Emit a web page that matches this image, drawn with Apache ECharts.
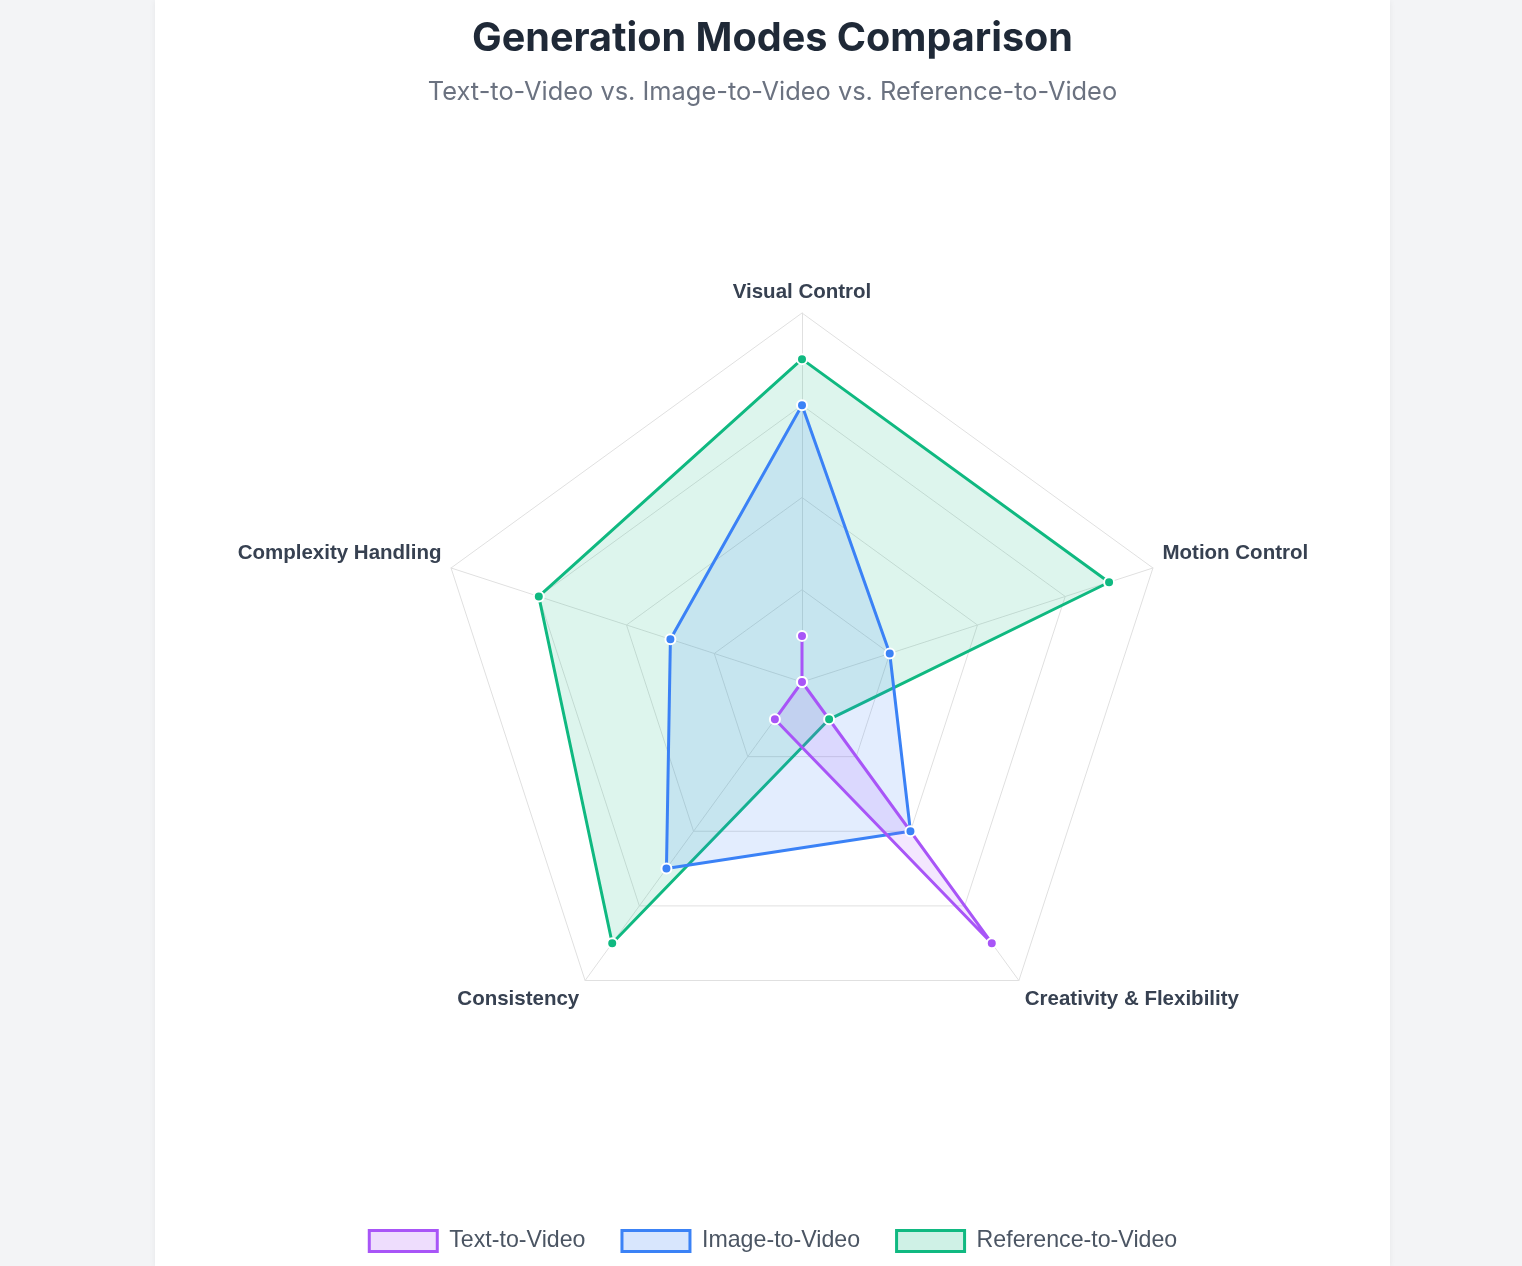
<!DOCTYPE html>
<html>
<head>
<meta charset="utf-8">
<script src="https://cdn.jsdelivr.net/npm/echarts@6/dist/echarts.min.js"></script>
<style>
  html, body { margin: 0; padding: 0; background: #f3f4f6; width: 1522px; height: 1266px; overflow: hidden; }
  #card { position: absolute; left: 155px; top: 0; width: 1235px; height: 1266px; background: #ffffff; box-shadow: 0 1px 6px rgba(0,0,0,0.06); }
  #chart { width: 1235px; height: 1266px; }
</style>
</head>
<body>
<div id="card"><div id="chart"></div></div>
<script>
// Categories in clockwise order starting from the top
const categories = ['Visual Control', 'Motion Control', 'Creativity & Flexibility', 'Consistency', 'Complexity Handling'];
const seriesNames = ['Text-to-Video', 'Image-to-Video', 'Reference-to-Video'];
const textToVideo = [3, 2, 9, 3, 2];
const imageToVideo = [8, 4, 6, 7, 5];
const referenceToVideo = [9, 9, 3, 9, 8];
const scaleMin = 2;
const scaleMax = 10;
const colors = ['#a855f7', '#3b82f6', '#10b981'];

// ECharts lays indicators counter-clockwise; reorder to keep clockwise reading
const order = [0, 4, 3, 2, 1];
const pick = arr => order.map(i => arr[i]);
const topLabels = ['Motion Control', 'Complexity Handling'];
const bottomLabels = ['Creativity & Flexibility', 'Consistency'];

const chart = echarts.init(document.getElementById('chart'));
const valuesList = [textToVideo, imageToVideo, referenceToVideo];

function fade(hex, a) {
  const r = parseInt(hex.slice(1, 3), 16), g = parseInt(hex.slice(3, 5), 16), b = parseInt(hex.slice(5, 7), 16);
  return 'rgba(' + r + ',' + g + ',' + b + ',' + a + ')';
}

const series = [2, 1, 0].map(k => ({
  type: 'radar',
  name: seriesNames[k],
  symbol: 'circle',
  symbolSize: 10,
  lineStyle: { color: colors[k], width: 3 },
  itemStyle: { color: colors[k], borderColor: '#ffffff', borderWidth: 2 },
  areaStyle: { color: fade(colors[k], 0.2) },
  emphasis: { disabled: true },
  data: [{ name: seriesNames[k], value: pick(valuesList[k]) }]
}));

const labelFont = { fontFamily: 'Liberation Sans', fontWeight: 'bold', fontSize: 20.5, color: '#374151' };

chart.setOption({
  animation: false,
  title: [
    {
      text: 'Generation Modes Comparison',
      left: 'center', top: 12,
      textStyle: { fontFamily: 'Inter', fontWeight: 'bold', fontSize: 39.6, lineHeight: 44, color: '#1f2937' }
    },
    {
      text: 'Text-to-Video vs. Image-to-Video vs. Reference-to-Video',
      left: 'center', top: 72,
      textStyle: { fontFamily: 'Inter', fontWeight: 'normal', fontSize: 25.4, lineHeight: 30, color: '#6b7280' }
    }
  ],
  legend: {
    data: seriesNames.map((n, k) => ({
      name: n,
      icon: 'rect',
      itemStyle: { color: fade(colors[k], 0.2), borderColor: colors[k], borderWidth: 3 }
    })),
    left: 'center',
    top: 1224,
    itemWidth: 68,
    itemHeight: 21,
    itemGap: 35,
    selectedMode: false,
    textStyle: { fontFamily: 'Liberation Sans', fontSize: 23.2, color: '#4b5563', padding: [0, 0, 0, 7] }
  },
  radar: {
    center: [647, 682],
    radius: 369,
    startAngle: 90,
    splitNumber: 4,
    shape: 'polygon',
    axisNameGap: 10,
    indicator: pick(categories).map(c => ({ name: c, min: scaleMin, max: scaleMax })),
    axisName: {
      formatter: function (name) {
        if (topLabels.indexOf(name) >= 0) return '{up|' + name + '}';
        if (bottomLabels.indexOf(name) >= 0) return '{down|' + name + '}';
        return '{mid|' + name + '}';
      },
      rich: {
        up: Object.assign({ padding: [0, 0, 24, 0] }, labelFont),
        down: Object.assign({ padding: [22, 0, 0, 0] }, labelFont),
        mid: Object.assign({ padding: [0, 0, 0, 0] }, labelFont)
      }
    },
    splitLine: { lineStyle: { color: '#e0e0e0', width: 1 } },
    axisLine: { lineStyle: { color: '#e0e0e0', width: 1 } },
    splitArea: { show: false },
    axisTick: { show: false },
    axisLabel: { show: false }
  },
  series: series
});
</script>
</body>
</html>
